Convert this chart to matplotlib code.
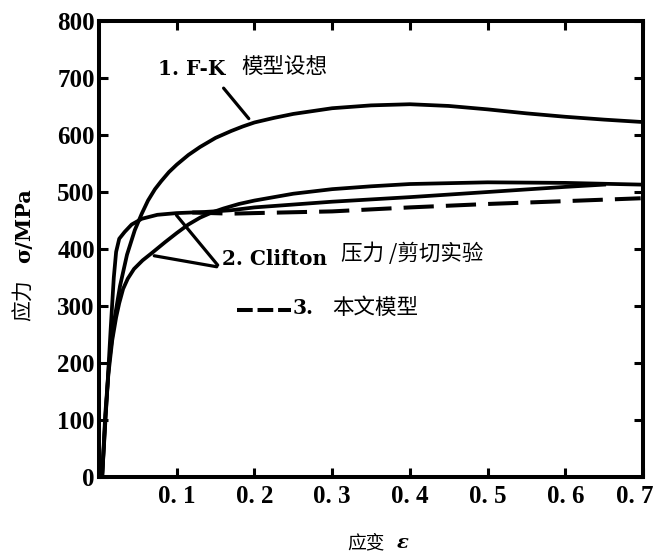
import matplotlib
matplotlib.use("Agg")
import matplotlib.pyplot as plt

# 1. F-K model curve
fk_strain = [0.004, 0.008, 0.013, 0.019, 0.027, 0.036, 0.046, 0.055, 0.063, 0.072,
             0.08, 0.09, 0.1, 0.115, 0.13, 0.15, 0.17, 0.185, 0.2, 0.225, 0.25,
             0.275, 0.3, 0.35, 0.4, 0.45, 0.5, 0.55, 0.6, 0.65, 0.697]
fk_stress = [0, 110, 200, 270, 335, 390, 433, 462, 485, 505,
             519, 535, 548, 565, 579, 595, 607, 615, 622, 630, 637,
             642, 647, 652, 654, 651, 645, 638, 632, 627, 623]

# 2. Clifton experiments (two curves)
ca_strain = [0.004, 0.01, 0.015, 0.019, 0.022, 0.026, 0.033, 0.042, 0.055, 0.075,
             0.1, 0.136, 0.17, 0.2, 0.3, 0.4, 0.5, 0.6, 0.65]
ca_stress = [0, 140, 260, 350, 395, 418, 430, 443, 453, 460,
             463, 465, 468, 473, 483, 491, 500, 509, 513]

cb_strain = [0.004, 0.008, 0.012, 0.017, 0.022, 0.026, 0.031, 0.037, 0.045, 0.056,
             0.068, 0.085, 0.1, 0.115, 0.13, 0.145, 0.16, 0.18, 0.2, 0.25,
             0.3, 0.35, 0.4, 0.5, 0.6, 0.697]
cb_stress = [0, 100, 180, 240, 280, 305, 330, 348, 365, 380,
             393, 412, 428, 443, 455, 464, 471, 479, 485, 497,
             505, 510, 514, 517, 516, 513]

# 3. present model (dashed)
md_strain = [0.12, 0.17, 0.2, 0.3, 0.4, 0.5, 0.6, 0.697]
md_stress = [464, 462, 463, 466, 473, 479, 484, 489]

xticks = [0.1, 0.2, 0.3, 0.4, 0.5, 0.6, 0.7]
xticklabels = ["0. 1", "0. 2", "0. 3", "0. 4", "0. 5", "0. 6", "0. 7"]
yticks = [0, 100, 200, 300, 400, 500, 600, 700, 800]

fig = plt.figure(figsize=(6.58, 5.59), dpi=100)
ax = fig.add_axes([0.1505, 0.1467, 0.8267, 0.8157])

lw = 2.7
ax.plot(fk_strain, fk_stress, color="black", lw=lw, solid_joinstyle="round")
ax.plot(ca_strain, ca_stress, color="black", lw=lw, solid_joinstyle="round")
ax.plot(cb_strain, cb_stress, color="black", lw=lw, solid_joinstyle="round")
ax.plot(md_strain, md_stress, color="black", lw=2.9, dashes=(7.5, 3))

ax.set_xlim(0, 0.7)
ax.set_ylim(0, 800)
ax.set_xticks(xticks)
# last label sits left of its tick, drawn separately below
ax.set_xticklabels(xticklabels[:-1] + [""])
ax.set_yticks(yticks)

tick_font = dict(family="Liberation Serif", weight="bold", size=18)
for lab in ax.get_xticklabels() + ax.get_yticklabels():
    lab.set_fontfamily(tick_font["family"])
    lab.set_fontweight(tick_font["weight"])
    lab.set_fontsize(tick_font["size"])
ax.annotate(xticklabels[-1], xy=(xticks[-1], 0), xytext=(-6, -6),
            textcoords="offset points", ha="center", va="top", **tick_font)

ax.tick_params(direction="in", length=6.5, width=2.2, top=True, right=True)
ax.tick_params(axis="x", pad=6)
ax.tick_params(axis="y", pad=3)
for s in ax.spines.values():
    s.set_linewidth(2.9)

latin = dict(family="DejaVu Serif", weight="bold", size=14.5)
cjk = dict(family=["Noto Sans CJK SC", "DejaVu Sans"], size=15.5)

# label 1
ax.text(0.0756, 716, "1. F-K", ha="left", va="center", **latin)
ax.text(0.183, 719, "模型设想", ha="left", va="center", **cjk)
ax.annotate("", xy=(0.195, 625), xytext=(0.158, 686),
            arrowprops=dict(arrowstyle="-", lw=2.3, color="black"))

# label 2
ax.text(0.158, 382, "2. Clifton", ha="left", va="center", **latin)
ax.text(0.3115, 391, "压力 /剪切实验", ha="left", va="center", **cjk)
ax.annotate("", xy=(0.0974, 463), xytext=(0.155, 368),
            arrowprops=dict(arrowstyle="-", lw=2.3, color="black"))
ax.annotate("", xy=(0.0675, 389), xytext=(0.155, 368),
            arrowprops=dict(arrowstyle="-", lw=2.3, color="black"))

# label 3
ax.plot([0.177, 0.247], [293, 293], color="black", lw=2.9, dashes=(3.9, 1.2))
ax.text(0.249, 296, "3.", ha="left", va="center", **latin)
ax.text(0.300, 296, "本文模型", ha="left", va="center", **cjk)

# axis labels
fig.text(0.0365, 0.5957, "σ/MPa", rotation=90, ha="center", va="center",
         family="DejaVu Serif", weight="bold", size=15)
fig.text(0.0365, 0.4633, "应力", rotation=90, ha="center", va="center",
         family=["Noto Sans CJK SC", "DejaVu Sans"], size=15)
fig.text(0.556, 0.0286, "应变", ha="center", va="center",
         family=["Noto Sans CJK SC", "DejaVu Sans"], size=13.5)
fig.text(0.612, 0.0286, "ε", ha="center", va="center",
         family="DejaVu Serif", weight="bold", style="italic", size=14)

fig.savefig("out.png", dpi=100, facecolor="white")
